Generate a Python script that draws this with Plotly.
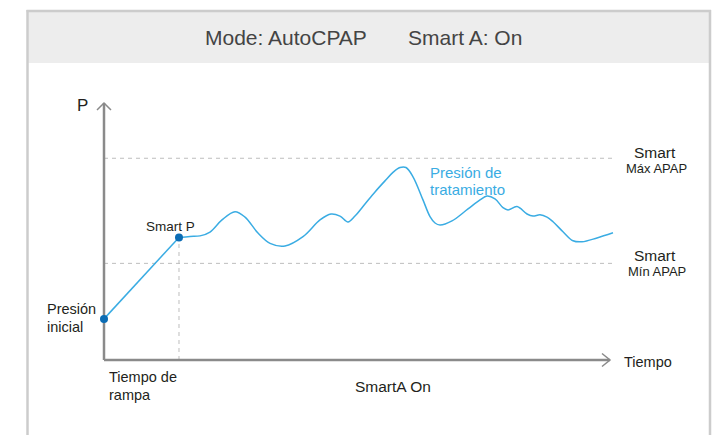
import plotly.graph_objects as go

# ---------------- data (arbitrary time / pressure units) ----------------
ramp_t = [0.0, 14.82]
ramp_p = [1.60, 4.77]

treat_t = [14.82, 17.00, 18.97, 20.95, 23.32, 25.89, 27.87, 30.43, 32.81, 35.77,
           39.33, 42.69, 44.86, 46.64, 48.22, 49.60, 51.58, 53.56, 55.53, 57.11,
           58.50, 59.68, 61.07, 63.04, 64.43, 65.42, 66.40, 68.77, 71.94, 74.31,
           75.69, 77.27, 78.85, 79.84, 81.62, 83.60, 84.78, 86.17, 87.55, 88.74,
           90.71, 92.69, 94.47, 97.43, 100.59]
treat_p = [4.77, 4.81, 4.83, 4.98, 5.45, 5.77, 5.56, 4.94, 4.54, 4.44,
           4.80, 5.45, 5.68, 5.60, 5.37, 5.60, 6.07, 6.54, 6.97, 7.30,
           7.49, 7.49, 7.13, 6.23, 5.58, 5.33, 5.25, 5.41, 5.88, 6.23,
           6.38, 6.27, 5.93, 5.84, 5.97, 5.68, 5.60, 5.65, 5.56, 5.38,
           4.99, 4.64, 4.60, 4.75, 4.95]

smart_max = 7.85
smart_min = 3.76
ramp_end_t = 14.82
t_axis_end = 100
p_axis_end = 10

# ---------------- geometry helpers (layout only) ----------------
OFF = 8                      # page body margin of the browser
W, H = 721 - OFF, 435 - OFF
L, R, T, B = 104, 610, 103, 360     # axis origin / arrow tips in window pixels
PL, PR, PT, PB = 84, 630, 90, 375   # padded plot area (so nothing gets clipped)


def dx(px):
    return (px - L) * t_axis_end / (R - L)


def dy(py):
    return (B - py) * p_axis_end / (B - T)


def fx(px):
    return (px - PL) / (PR - PL)


def fy(py):
    return (PB - py) / (PB - PT)


FONT = "Liberation Sans, Arial, sans-serif"
TXT = "#231f20"
BLUE = "#3aace3"
DOT = "#0b6cb4"
AXIS = "#8a8a8a"
DASH = "#bdbdbd"

fig = go.Figure()

# dashed reference lines
for lvl in (smart_max, smart_min):
    fig.add_trace(go.Scatter(x=[0, dx(612)], y=[lvl, lvl], mode="lines",
                             line=dict(color=DASH, width=1, dash="4px,4px"),
                             hoverinfo="skip", showlegend=False))
fig.add_trace(go.Scatter(x=[ramp_end_t, ramp_end_t], y=[0, ramp_p[-1]], mode="lines",
                         line=dict(color=DASH, width=1, dash="4px,4px"),
                         hoverinfo="skip", showlegend=False))

# ramp + treatment curve
fig.add_trace(go.Scatter(x=ramp_t, y=ramp_p, mode="lines",
                         line=dict(color=BLUE, width=1.5), showlegend=False))
fig.add_trace(go.Scatter(x=treat_t, y=treat_p, mode="lines",
                         line=dict(color=BLUE, width=1.5, shape="spline", smoothing=1.0),
                         showlegend=False))

# axes (lines + open chevrons)
fig.add_trace(go.Scatter(x=[0, t_axis_end], y=[0, 0], mode="lines",
                         line=dict(color=AXIS, width=2.5), showlegend=False))
fig.add_trace(go.Scatter(x=[0, 0], y=[0, p_axis_end], mode="lines",
                         line=dict(color=AXIS, width=2.5), showlegend=False))
ax_px, ay_px = 8, 6.5
fig.add_trace(go.Scatter(x=[t_axis_end - dx(L + ax_px), t_axis_end, t_axis_end - dx(L + ax_px)],
                         y=[dy(B - ay_px), 0, -dy(B - ay_px)], mode="lines",
                         line=dict(color=AXIS, width=1.5), showlegend=False))
fig.add_trace(go.Scatter(x=[-dx(L + 7), 0, dx(L + 7)],
                         y=[p_axis_end - dy(B - 7), p_axis_end, p_axis_end - dy(B - 7)], mode="lines",
                         line=dict(color=AXIS, width=1.5), showlegend=False))

# points
fig.add_trace(go.Scatter(x=[ramp_t[0], ramp_t[-1]], y=[ramp_p[0], ramp_p[-1]], mode="markers",
                         marker=dict(color=DOT, size=8), showlegend=False, cliponaxis=False))

# frame and header
shapes = [
    dict(type="rect", xref="paper", yref="paper", x0=fx(28), x1=fx(709), y0=fy(63), y1=fy(11.5),
         fillcolor="#ededed", line=dict(width=0), layer="below"),
    dict(type="line", xref="paper", yref="paper", x0=fx(26.5), x1=fx(711), y0=fy(11), y1=fy(11),
         line=dict(color="#cccccc", width=2.5)),
    dict(type="line", xref="paper", yref="paper", x0=fx(27.5), x1=fx(27.5), y0=fy(10), y1=fy(436),
         line=dict(color="#cccccc", width=2.5)),
    dict(type="line", xref="paper", yref="paper", x0=fx(710), x1=fx(710), y0=fy(10), y1=fy(436),
         line=dict(color="#cccccc", width=2.5)),
]

ann = []


def label(text, px, py, size, color=TXT, xanchor="left"):
    ann.append(dict(text=text, x=fx(px), y=fy(py), xref="paper", yref="paper",
                    xanchor=xanchor, yanchor="middle", showarrow=False,
                    font=dict(family=FONT, size=size, color=color)))


label("Mode: AutoCPAP", 286, 37.5, 21, "#444444", "center")
label("Smart A: On", 464.5, 37.5, 21, "#444444", "center")
label("P", 82, 106, 17, TXT, "center")
label("Smart P", 170.5, 226.5, 13.5, TXT, "center")
label("Presión", 45, 309, 14.5)
label("inicial", 45, 326.5, 14.5)
label("Tiempo de", 106.5, 377, 14.5)
label("rampa", 106.5, 394.5, 14.5)
label("Presión de", 427.5, 172.5, 15, BLUE)
label("tratamiento", 427.5, 189.5, 15, BLUE)
label("Tiempo", 621.5, 361.5, 14.5)
label("SmartA On", 393, 386.5, 15.5, TXT, "center")
label("Smart", 655, 152, 15.5, TXT, "center")
label("Máx APAP", 656.5, 168, 13, TXT, "center")
label("Smart", 655, 255.5, 15.5, TXT, "center")
label("Mín APAP", 656.5, 271, 13, TXT, "center")

fig.update_layout(
    width=W, height=H,
    margin=dict(l=PL - OFF, r=721 - PR, t=PT - OFF, b=435 - PB, pad=0),
    paper_bgcolor="white", plot_bgcolor="rgba(0,0,0,0)",
    xaxis=dict(range=[dx(PL), dx(PR)], visible=False, fixedrange=True),
    yaxis=dict(range=[dy(PB), dy(PT)], visible=False, fixedrange=True),
    shapes=shapes, annotations=ann, showlegend=False,
)

fig.write_html("out.html")
